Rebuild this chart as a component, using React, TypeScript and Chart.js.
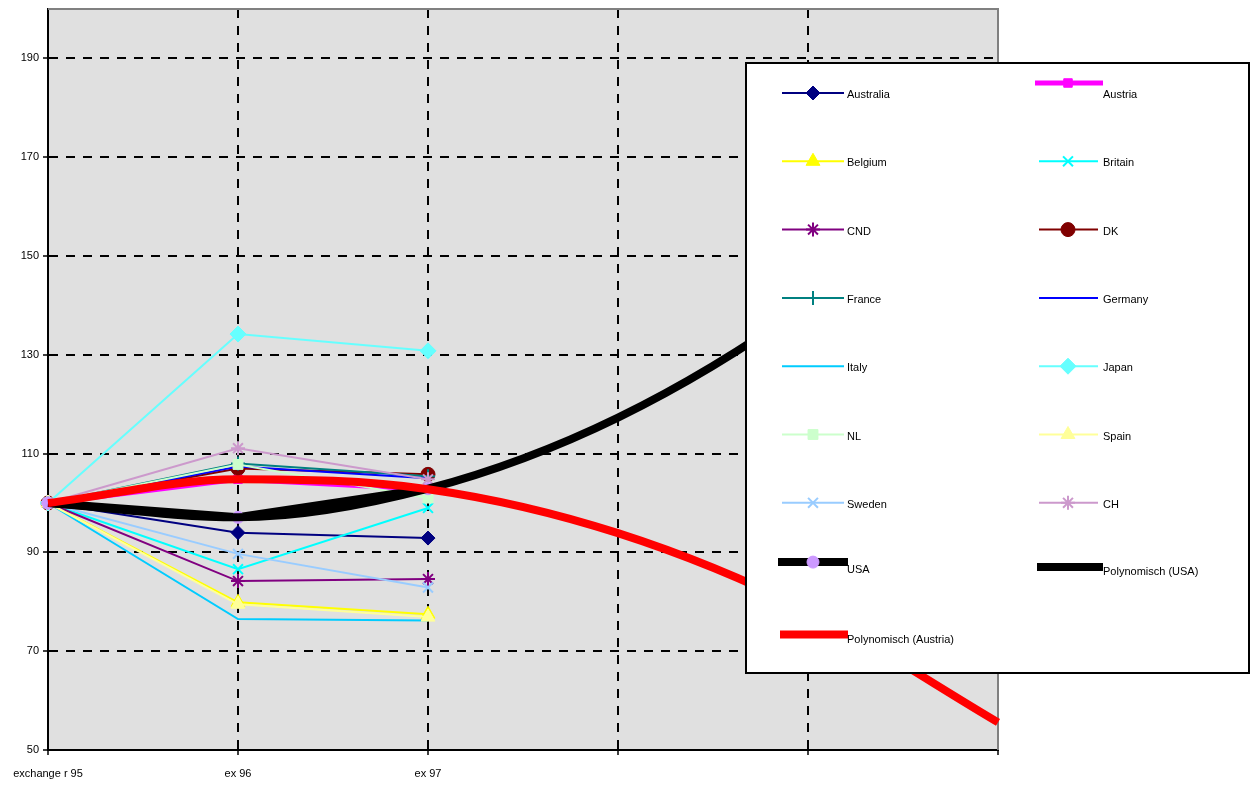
import React, { useEffect, useRef } from 'react';
import { Chart, registerables } from 'chart.js';
import * as helpers from 'chart.js/helpers';

Chart.register(...registerables);

// ---------- data ----------
const categories = ['exchange r 95', 'ex 96', 'ex 97', '', '', ''];
const yTicks = [50, 70, 90, 110, 130, 150, 170, 190];

const australia = [100, 94.0, 92.9];
const austria = [100, 104.8, 102.8];
const belgium = [100, 79.9, 77.5];
const britain = [100, 86.6, 99.0];
const cnd = [100, 84.2, 84.6];
const dk = [100, 107.0, 105.8];
const france = [100, 108.0, 105.4];
const germany = [100, 107.4, 105.0];
const italy = [100, 76.5, 76.2];
const japan = [100, 134.2, 130.8];
const nl = [100, 107.8, 101.0];
const spain = [100, 79.5, 76.9];
const sweden = [100, 89.7, 82.9];
const ch = [100, 111.1, 104.8];
const usa = [100, 97.1, 102.9];
const polyUsa = [100, 97.1, 102.9, 117.3, 140.4, 172.0];
const polyAustria = [100, 104.8, 102.8, 93.9, 78.2, 55.6];

// ---------- styles ----------
type S = { label: string; data: number[]; color: string; mcolor: string; width: number; style: any; radius: number; bw: number; poly?: boolean };
const series: S[] = [
  { label: 'Australia', data: australia, color: '#000080', mcolor: '#000080', width: 2, style: 'rectRot', radius: 7, bw: 1 },
  { label: 'Austria', data: austria, color: '#FF00FF', mcolor: '#FF00FF', width: 5, style: 'rect', radius: 6, bw: 1 },
  { label: 'Belgium', data: belgium, color: '#FFFF00', mcolor: '#FFFF00', width: 2, style: 'triangle', radius: 8, bw: 1 },
  { label: 'Britain', data: britain, color: '#00FFFF', mcolor: '#00FFFF', width: 2, style: 'crossRot', radius: 7, bw: 2 },
  { label: 'CND', data: cnd, color: '#800080', mcolor: '#800080', width: 2, style: 'star', radius: 7, bw: 2 },
  { label: 'DK', data: dk, color: '#800000', mcolor: '#800000', width: 2, style: 'circle', radius: 7, bw: 1 },
  { label: 'France', data: france, color: '#008080', mcolor: '#008080', width: 2, style: 'cross', radius: 7, bw: 2 },
  { label: 'Germany', data: germany, color: '#0000FF', mcolor: '#0000FF', width: 2, style: false, radius: 0, bw: 0 },
  { label: 'Italy', data: italy, color: '#00CCFF', mcolor: '#00CCFF', width: 2, style: false, radius: 0, bw: 0 },
  { label: 'Japan', data: japan, color: '#66FFFF', mcolor: '#66FFFF', width: 2, style: 'rectRot', radius: 8, bw: 1 },
  { label: 'NL', data: nl, color: '#CCFFCC', mcolor: '#CCFFCC', width: 2, style: 'rect', radius: 7, bw: 1 },
  { label: 'Spain', data: spain, color: '#FFFF99', mcolor: '#FFFF99', width: 2, style: 'triangle', radius: 8, bw: 1 },
  { label: 'Sweden', data: sweden, color: '#99CCFF', mcolor: '#99CCFF', width: 2, style: 'crossRot', radius: 7, bw: 2 },
  { label: 'CH', data: ch, color: '#CC99CC', mcolor: '#CC99CC', width: 2, style: 'star', radius: 7, bw: 2 },
  { label: 'USA', data: usa, color: '#000000', mcolor: '#CC99FF', width: 8, style: 'circle', radius: 6, bw: 1 },
  { label: 'Polynomisch (USA)', data: polyUsa, color: '#000000', mcolor: '#000000', width: 8, style: false, radius: 0, bw: 0, poly: true },
  { label: 'Polynomisch (Austria)', data: polyAustria, color: '#FF0000', mcolor: '#FF0000', width: 8, style: false, radius: 0, bw: 0, poly: true },
];

// legend line offsets: [lineDy, textDy, x0 extend, x1 extend]
const legendTweaks: Record<string, number[]> = {
  Austria: [-10, 2, -4, 5],
  USA: [-9, -1, -4, 4],
  'Polynomisch (USA)': [-4, 1, -2, 5],
  'Polynomisch (Austria)': [-5, 1, -2, 4],
};

const FONT = '"Liberation Sans", Arial, sans-serif';

const bgPlugin = {
  id: 'bgPlugin',
  beforeDraw(chart: any) {
    const { ctx, chartArea: a } = chart;
    ctx.save();
    ctx.fillStyle = '#E0E0E0';
    ctx.fillRect(a.left, a.top, a.right - a.left, a.bottom - a.top);
    ctx.restore();
  },
  beforeDatasetsDraw(chart: any) {
    const { ctx, chartArea: a } = chart;
    ctx.save();
    ctx.strokeStyle = '#808080';
    ctx.lineWidth = 2;
    ctx.beginPath();
    ctx.moveTo(a.left, a.top);
    ctx.lineTo(a.right, a.top);
    ctx.lineTo(a.right, a.bottom);
    ctx.stroke();
    ctx.restore();
  },
};

const legendPlugin = {
  id: 'legendBox',
  afterDraw(chart: any) {
    const ctx = chart.ctx;
    const bx = 746, by = 63, bw = 503, bh = 610;
    ctx.save();
    ctx.fillStyle = '#FFFFFF';
    ctx.fillRect(bx, by, bw, bh);
    ctx.strokeStyle = '#000000';
    ctx.lineWidth = 2;
    ctx.strokeRect(bx, by, bw, bh);
    const cols = [
      { x0: 782, x1: 844, mx: 813, tx: 847 },
      { x0: 1039, x1: 1098, mx: 1068, tx: 1103 },
    ];
    series.forEach((s, i) => {
      const col = cols[i % 2];
      const row = Math.floor(i / 2);
      const y = 93 + row * 68.3;
      const tw = legendTweaks[s.label] || [0, 2, 0, 0];
      const ly = y + tw[0];
      ctx.strokeStyle = s.color;
      ctx.lineWidth = s.width;
      ctx.setLineDash([]);
      ctx.beginPath();
      ctx.moveTo(col.x0 + tw[2], ly);
      ctx.lineTo(col.x1 + tw[3], ly);
      ctx.stroke();
      if (s.style) {
        ctx.fillStyle = s.mcolor;
        ctx.strokeStyle = s.mcolor;
        ctx.lineWidth = s.bw;
        helpers.drawPoint(ctx, { pointStyle: s.style, radius: s.radius, rotation: 0, borderWidth: s.bw }, col.mx, ly);
      }
      ctx.fillStyle = '#000000';
      ctx.font = '11px ' + FONT;
      ctx.textBaseline = 'middle';
      ctx.textAlign = 'left';
      ctx.fillText(s.label, col.tx + tw[3] * 0, y + tw[1]);
    });
    ctx.restore();
  },
};

export default function App() {
  const ref = useRef<HTMLCanvasElement>(null);
  useEffect(() => {
    if (!ref.current) return;
    const n = series.length;
    const chart = new Chart(ref.current, {
      type: 'line',
      data: {
        labels: categories,
        datasets: series.map((s, i) => ({
          label: s.label,
          data: s.data,
          borderColor: s.color,
          backgroundColor: s.mcolor,
          borderWidth: s.width,
          pointStyle: s.style,
          pointRadius: s.radius,
          pointBackgroundColor: s.mcolor,
          pointBorderColor: s.mcolor,
          pointBorderWidth: s.bw,
          fill: false,
          tension: 0,
          cubicInterpolationMode: s.poly ? 'monotone' : 'default',
          order: n - i,
        })),
      },
      options: {
        animation: false,
        responsive: false,
        maintainAspectRatio: false,
        layout: { padding: { left: 0, top: 8, right: 261, bottom: 0 } },
        plugins: { legend: { display: false }, tooltip: { enabled: false }, title: { display: false } },
        scales: {
          x: {
            type: 'category',
            offset: false,
            grid: {
              color: (c: any) => (c.index === 5 || c.index === 0 ? 'rgba(0,0,0,0)' : '#000000'),
              lineWidth: 2,
              tickColor: '#000000',
              tickLength: 5,
              tickWidth: 1.5,
            },
            border: { display: true, color: '#000000', width: 2, dash: [9, 8] },
            ticks: {
              color: '#000000',
              font: { family: FONT, size: 11 },
              padding: 12,
              autoSkip: false,
              maxRotation: 0,
              minRotation: 0,
            },
            afterFit: (s: any) => {
              s.height = 37;
              s.paddingLeft = 0;
              s.paddingRight = 0;
            },
          },
          y: {
            type: 'linear',
            min: 50,
            max: 200,
            afterBuildTicks: (s: any) => {
              s.ticks = yTicks.map((v) => ({ value: v }));
            },
            grid: {
              color: (c: any) => (c.index === 0 ? 'rgba(0,0,0,0)' : '#000000'),
              lineWidth: 2,
              tickColor: '#000000',
              tickLength: 5,
              tickWidth: 1.5,
            },
            border: { display: true, color: '#000000', width: 2, dash: [9, 8] },
            ticks: {
              color: '#000000',
              font: { family: FONT, size: 11 },
              padding: 4,
              callback: (v: any) => String(v),
            },
            afterFit: (s: any) => {
              s.width = 48;
              s.paddingTop = 0;
              s.paddingBottom = 0;
            },
          },
        },
      },
      plugins: [bgPlugin, legendPlugin],
    });
    return () => chart.destroy();
  }, []);
  return (
    <div style={{ position: 'fixed', left: 0, top: 0, width: 1259, height: 787, background: '#FFFFFF' }}>
      <canvas ref={ref} width={1259} height={787} style={{ width: 1259, height: 787, display: 'block' }} />
    </div>
  );
}
